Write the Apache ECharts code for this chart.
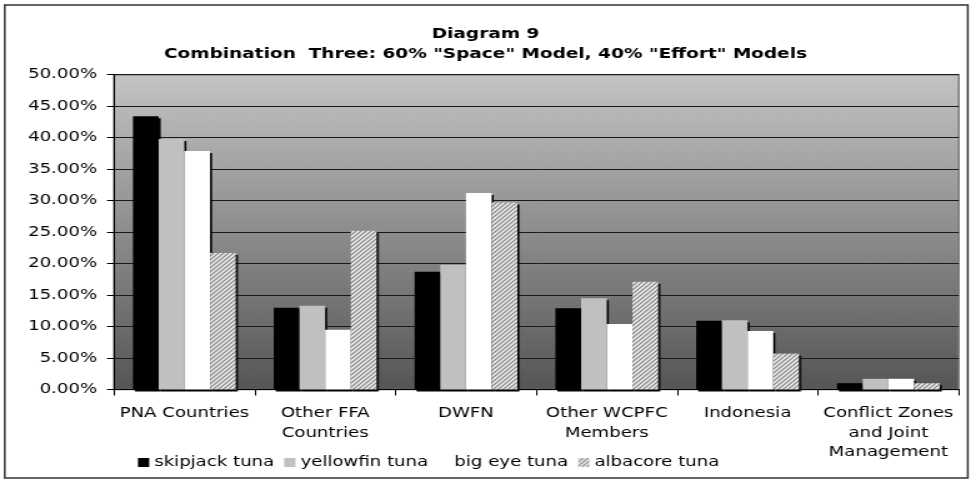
<!DOCTYPE html>
<html>
<head>
<meta charset="utf-8">
<script src="https://cdn.jsdelivr.net/npm/echarts@6/dist/echarts.min.js"></script>
<style>
  html, body { margin: 0; padding: 0; background: #fff; overflow: hidden; }
  #wrap { width: 971px; height: 483px; overflow: hidden; }
  /* the chart is laid out narrower and widened, giving the broad lettering */
  #chart { width: 777px; height: 483px; transform: scaleX(1.2497); transform-origin: 0 0; }
</style>
</head>
<body>
<div id="wrap"><div id="chart"></div></div>
<script>
// Share of allocation by zone, in percent
const categories = [
  'PNA Countries',
  'Other FFA\nCountries',
  'DWFN',
  'Other WCPFC\nMembers',
  'Indonesia',
  'Conflict Zones\nand Joint\nManagement'
];
const skipjack  = [43.4, 13.0, 18.7, 12.9, 10.9, 1.0];
const yellowfin = [39.8, 13.3, 19.8, 14.5, 11.0, 1.7];
const bigEye    = [37.9,  9.5, 31.2, 10.4,  9.3, 1.7];
const albacore  = [21.7, 25.2, 29.7, 17.1,  5.7, 1.0];

const seriesNames = ['skipjack tuna', 'yellowfin tuna', 'big eye tuna', 'albacore tuna'];
const yMin = 0, yMax = 50, yStep = 5;

const titleLines = ['Diagram 9', 'Combination  Three: 60% "Space" Model, 40% "Effort" Models'];

// diagonal hatch for albacore
function hatch() {
  const c = document.createElement('canvas');
  c.width = 4; c.height = 4;
  const g = c.getContext('2d');
  g.fillStyle = '#f2f2f2';
  g.fillRect(0, 0, 4, 4);
  g.strokeStyle = '#8c8c8c';
  g.lineWidth = 1.3;
  g.beginPath();
  g.moveTo(-1, 5); g.lineTo(5, -1);
  g.moveTo(-1, 1); g.lineTo(1, -1);
  g.moveTo(3, 5); g.lineTo(5, 3);
  g.stroke();
  return c;
}

const font = 'DejaVu Sans';
const shadow = { shadowColor: '#000', shadowBlur: 0, shadowOffsetX: 1.6, shadowOffsetY: 2 };

function barSeries(name, data, color) {
  return {
    name: name,
    type: 'bar',
    data: data,
    barGap: '0%',
    barCategoryGap: '27%',
    itemStyle: Object.assign({ color: color }, shadow),
    emphasis: { disabled: true }
  };
}

const chart = echarts.init(document.getElementById('chart'), null, { renderer: 'canvas' });
chart.setOption({
  animation: false,
  backgroundColor: '#fff',
  textStyle: { fontFamily: font },
  title: {
    text: titleLines.join('\n'),
    left: 'center',
    top: 19,
    textStyle: { fontFamily: font, fontSize: 14.8, fontWeight: 'bold', color: '#000', lineHeight: 20 }
  },
  graphic: [{
    type: 'rect',
    shape: { x: 3.8, y: 5, width: 770.6, height: 473 },
    style: { fill: null, stroke: '#333', lineWidth: 1.5 },
    silent: true,
    z: 100
  }],
  legend: {
    data: seriesNames,
    left: 110.4,
    top: 455,
    padding: 0,
    itemWidth: 9,
    itemHeight: 9,
    itemGap: 8,
    icon: 'rect',
    selectedMode: false,
    textStyle: { fontFamily: font, fontSize: 14.5, color: '#000', padding: [0, 0, 0, -1] }
  },
  grid: {
    left: 91.2,
    right: 9.8,
    top: 74.7,
    bottom: 93.5,
    show: true,
    borderColor: '#7a7a7a',
    borderWidth: 1.5,
    backgroundColor: {
      type: 'linear', x: 0, y: 0, x2: 0, y2: 1,
      colorStops: [{ offset: 0, color: '#c4c4c4' }, { offset: 1, color: '#555555' }]
    }
  },
  xAxis: {
    type: 'category',
    data: categories,
    axisLine: { lineStyle: { color: '#000', width: 1 } },
    axisTick: { show: true, length: 6, lineStyle: { color: '#000' } },
    axisLabel: {
      interval: 0,
      margin: 14,
      fontFamily: font,
      fontSize: 14.5,
      lineHeight: 19.5,
      color: '#000',
      align: 'center'
    },
    splitLine: { show: false }
  },
  yAxis: {
    type: 'value',
    min: yMin,
    max: yMax,
    interval: yStep,
    axisLine: { show: true, lineStyle: { color: '#000', width: 1 } },
    axisTick: { show: true, length: 5.6, lineStyle: { color: '#000' } },
    axisLabel: {
      margin: 13.5,
      fontFamily: font,
      fontSize: 14.5,
      color: '#000',
      formatter: v => v.toFixed(2) + '%'
    },
    splitLine: { show: true, lineStyle: { color: '#1a1a1a', width: 1 } }
  },
  series: [
    barSeries(seriesNames[0], skipjack, '#000000'),
    barSeries(seriesNames[1], yellowfin, '#c0c0c0'),
    barSeries(seriesNames[2], bigEye, '#ffffff'),
    barSeries(seriesNames[3], albacore, { image: hatch(), repeat: 'repeat' })
  ]
});
</script>
</body>
</html>
